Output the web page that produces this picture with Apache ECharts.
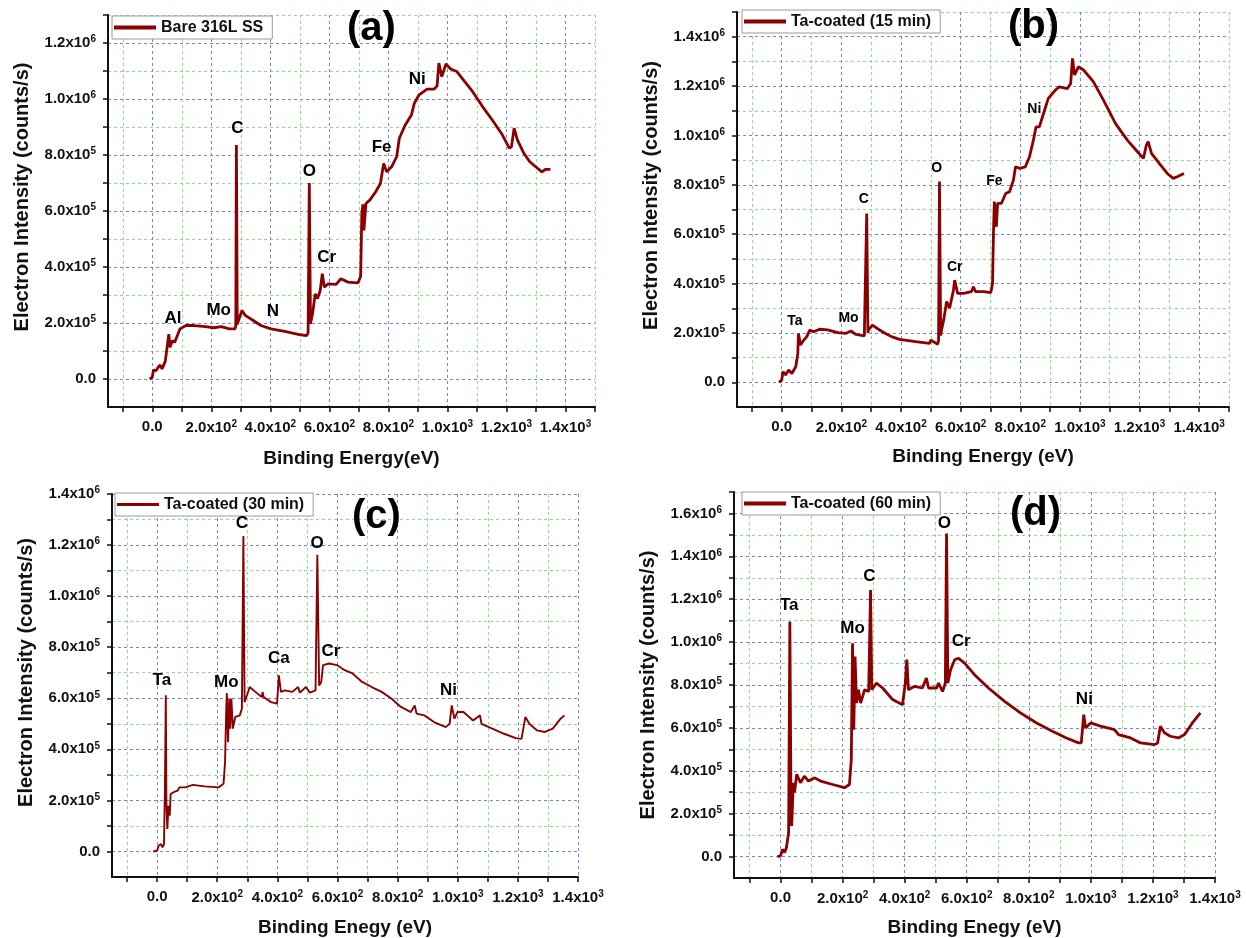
<!DOCTYPE html>
<html>
<head>
<meta charset="utf-8">
<title>XPS survey spectra</title>
<style>
  html, body { margin: 0; padding: 0; background: #fff; }
  #main { width: 1246px; height: 938px; }
</style>
</head>
<body>
<div id="main"></div>
<script src="https://cdn.jsdelivr.net/npm/echarts@6/dist/echarts.min.js"></script>
<script>
// ---- data ----
// (a) bare 316L SS
var energyA = [-9,0,4,13,20,27,33,44,50,56,60,68,76,87,94,100,114,141,181,208,234,261,280,283,285,288,292,304,315,342,368,402,449,502,523,528,532,536,543,552,560,569,576,583,596,623,639,663,697,706,710,714,717,724,737,757,773,784,794,811,828,837,857,878,888,904,931,955,965,971,981,995,1011,1032,1058,1085,1119,1152,1186,1210,1217,1226,1237,1259,1279,1299,1320,1333,1349];
var countsA = [0,6e3,32e3,30e3,42e3,50e3,36e3,63e3,66e3,160e3,113e3,137e3,131e3,161e3,179e3,173e3,191e3,191e3,187e3,183e3,187e3,179e3,179e3,190e3,836e3,195e3,209e3,245e3,227e3,209e3,191e3,179e3,170e3,158e3,155e3,165e3,700e3,197e3,233e3,304e3,287e3,316e3,376e3,328e3,340e3,338e3,358e3,346e3,343e3,367e3,591e3,624e3,531e3,627e3,639e3,669e3,698e3,770e3,740e3,758e3,794e3,860e3,907e3,943e3,985e3,1015e3,1035e3,1035e3,1047e3,1128e3,1080e3,1125e3,1107e3,1098e3,1063e3,1027e3,973e3,925e3,872e3,824e3,830e3,896e3,854e3,806e3,776e3,758e3,740e3,749e3,749e3];
var peakNamesA = ['Al','Mo','N','C','O','Cr','Fe','Ni'];
var peakXA = [70,225,409,288,532,591,777,898];
var peakYA = [215e3,245e3,242e3,896e3,743e3,436e3,826e3,1069e3];

// (b) Ta-coated 15 min
var energyB = [-9,0,4,13,23,34,47,54,56,63,74,84,94,107,127,154,188,214,232,248,277,283,285,289,291,304,328,348,368,395,449,496,500,523,526,529,533,536,543,553,563,576,580,590,610,636,643,650,677,701,707,710,713,720,724,737,751,764,777,784,797,817,831,844,853,864,878,894,918,931,958,969,975,982,995,1012,1045,1079,1119,1159,1193,1213,1223,1229,1240,1266,1293,1313,1326,1349];
var countsB = [0,9e3,43e3,30e3,50e3,36e3,63e3,117e3,198e3,151e3,171e3,185e3,212e3,205e3,215e3,212e3,201e3,198e3,208e3,194e3,188e3,195e3,684e3,200e3,212e3,232e3,212e3,198e3,185e3,174e3,165e3,158e3,171e3,154e3,170e3,813e3,190e3,212e3,252e3,327e3,300e3,374e3,414e3,360e3,360e3,367e3,387e3,367e3,367e3,363e3,400e3,603e3,732e3,630e3,725e3,725e3,765e3,772e3,819e3,873e3,867e3,873e3,914e3,981e3,1035e3,1035e3,1089e3,1150e3,1184e3,1197e3,1190e3,1210e3,1312e3,1245e3,1278e3,1265e3,1218e3,1143e3,1049e3,981e3,934e3,907e3,961e3,975e3,927e3,887e3,846e3,826e3,833e3,846e3];
var peakNamesB = ['Ta','Mo','C','O','Cr','Fe','Ni'];
var peakXB = [44,224,275,520,580,713,847];
var peakYB = [246e3,259e3,743e3,867e3,468e3,813e3,1106e3];

// (c) Ta-coated 30 min
var energyC = [-13,0,5,13,18,23,26,29,31,34,38,42,45,55,68,74,94,119,158,204,221,226,230,232,236,240,243,247,252,260,275,282,287,291,299,308,327,348,351,354,379,399,405,412,425,450,469,475,495,508,527,533,539,546,552,572,598,624,650,682,714,747,779,811,844,857,863,889,921,960,973,980,989,999,1019,1051,1074,1079,1115,1154,1193,1212,1225,1238,1264,1290,1316,1342,1355];
var countsC = [0,3e3,22e3,29e3,16e3,29e3,245e3,612e3,193e3,88e3,179e3,140e3,225e3,232e3,238e3,251e3,251e3,261e3,255e3,251e3,265e3,350e3,559e3,620e3,428e3,599e3,481e3,599e3,481e3,527e3,533e3,559e3,1235e3,585e3,612e3,644e3,625e3,605e3,625e3,605e3,585e3,579e3,690e3,625e3,631e3,625e3,644e3,622e3,644e3,622e3,631e3,1162e3,650e3,664e3,730e3,736e3,730e3,710e3,697e3,664e3,644e3,625e3,599e3,566e3,546e3,572e3,540e3,533e3,507e3,487e3,500e3,572e3,520e3,546e3,546e3,513e3,533e3,500e3,481e3,461e3,444e3,441e3,527e3,500e3,474e3,468e3,481e3,520e3,533e3];
var peakNamesC = ['Ta','Mo','C','Ca','O','Cr','Ni'];
var peakXC = [16,230,282,405,532,578,969];
var peakYC = [671e3,664e3,1286e3,756e3,1208e3,785e3,631e3];

// (d) Ta-coated 60 min
var energyD = [-10,0,6,13,19,26,30,34,36,41,45,52,64,77,90,110,129,168,206,222,228,232,236,240,245,251,258,271,284,290,294,309,329,361,393,402,407,412,432,457,470,477,503,509,522,531,535,539,548,561,573,593,625,670,722,773,825,876,921,960,969,977,983,999,1031,1076,1082,1089,1128,1160,1205,1215,1224,1237,1256,1282,1302,1327,1353];
var countsD = [0,3e3,34e3,19e3,42e3,112e3,1096e3,158e3,143e3,344e3,298e3,383e3,344e3,375e3,352e3,367e3,352e3,336e3,321e3,336e3,453e3,995e3,592e3,933e3,716e3,778e3,716e3,778e3,770e3,1243e3,778e3,809e3,786e3,732e3,708e3,809e3,918e3,778e3,794e3,786e3,832e3,786e3,786e3,809e3,770e3,809e3,1507e3,809e3,871e3,918e3,925e3,902e3,848e3,786e3,724e3,670e3,623e3,584e3,553e3,530e3,530e3,662e3,600e3,623e3,608e3,592e3,600e3,569e3,553e3,530e3,522e3,530e3,608e3,577e3,561e3,553e3,569e3,623e3,670e3];
var peakNamesD = ['Ta','Mo','C','O','Cr','Ni'];
var peakXD = [28,232,286,528,582,979];
var peakYD = [1173e3,1065e3,1308e3,1553e3,1003e3,732e3];

// legends, panel letters and axis titles
var seriesNames = ['Bare 316L SS', 'Ta-coated (15 min)', 'Ta-coated (30 min)', 'Ta-coated (60 min)'];
var panelLetters = ['(a)', '(b)', '(c)', '(d)'];
var xNames = ['Binding Energy(eV)', 'Binding Energy (eV)', 'Binding Enegy (eV)', 'Binding Enegy (eV)'];
var yName = 'Electron Intensity (counts/s)';

// axis ranges and labelled ticks
var xMaxes = [1500, 1500, 1400, 1400];
var yMaxes = [1.3e6, 1.5e6, 1.4e6, 1.7e6];
var xLabelTicks = [0, 200, 400, 600, 800, 1000, 1200, 1400];
var yLabelTicks = [
  [0, 2e5, 4e5, 6e5, 8e5, 1e6, 1.2e6],
  [0, 2e5, 4e5, 6e5, 8e5, 1e6, 1.2e6, 1.4e6],
  [0, 2e5, 4e5, 6e5, 8e5, 1e6, 1.2e6, 1.4e6],
  [0, 2e5, 4e5, 6e5, 8e5, 1e6, 1.2e6, 1.4e6, 1.6e6]
];

var chart = echarts.init(document.getElementById('main'));

var FONT = 'Liberation Sans, Arial, sans-serif';
var RED = '#8b0000';

function zip(xs, ys) {
  var out = [];
  for (var i = 0; i < xs.length; i++) out.push([xs[i], ys[i]]);
  return out;
}
function peaks(names, xs, ys) {
  var out = [];
  for (var i = 0; i < names.length; i++) out.push({ name: names[i], value: [xs[i], ys[i]] });
  return out;
}
function steps(from, to, step) {
  var out = [];
  for (var v = from; v <= to + 1e-6; v += step) out.push(Math.round(v));
  return out;
}
// 1.2x10^6 style labels
function sci(v) {
  if (v === 0) return '{m|0.0}';
  var e = Math.floor(Math.log10(Math.abs(v)) + 1e-9);
  var m = v / Math.pow(10, e);
  return '{m|' + m.toFixed(1) + 'x10}{s|' + e + '}';
}
var tickRich = {
  m: { fontFamily: FONT, fontSize: 15, fontWeight: 'bold', color: '#111' },
  s: { fontFamily: FONT, fontSize: 10, fontWeight: 'bold', color: '#111', verticalAlign: 'top', padding: [0, 0, 7, 0] }
};

var grids = [
  { left: 108, top: 15, width: 487, height: 392 },
  { left: 737, top: 12, width: 492, height: 395 },
  { left: 112, top: 494, width: 466, height: 384 },
  { left: 734, top: 492, width: 481, height: 387 }
];
var legendPos = [
  { left: 112, top: 16 },
  { left: 742, top: 10 },
  { left: 115, top: 493 },
  { left: 742, top: 492 }
];
var letterPos = [
  { left: 347, top: 9 },
  { left: 1008, top: 7 },
  { left: 352, top: 497 },
  { left: 1010, top: 494 }
];
var peakFont = [17, 14, 17, 17];
var lineWidths = [2.8, 2.8, 1.9, 2.8];
var iconHeights = [4, 4, 3, 4];
var xNameGaps = [42, 40, 41, 40];
var yNamePad = [[0, 0, 0, 28], [0, 0, 0, 28], [0, 0, 0, 26], [0, 0, 0, 0]];

var energies = [energyA, energyB, energyC, energyD];
var counts = [countsA, countsB, countsC, countsD];
var peakSets = [
  peaks(peakNamesA, peakXA, peakYA),
  peaks(peakNamesB, peakXB, peakYB),
  peaks(peakNamesC, peakXC, peakYC),
  peaks(peakNamesD, peakXD, peakYD)
];

var xAxes = [], yAxes = [], series = [], legends = [], titles = [];
for (var i = 0; i < 4; i++) {
  xAxes.push({
    gridIndex: i, type: 'value', min: -150, max: xMaxes[i],
    name: xNames[i], nameLocation: 'middle', nameGap: xNameGaps[i],
    nameTextStyle: { fontFamily: FONT, fontSize: 19, fontWeight: 'bold', color: '#111' },
    axisLine: { onZero: false, lineStyle: { color: '#111', width: 2 } },
    axisTick: { customValues: steps(-100, xMaxes[i], 100), length: 5, lineStyle: { color: '#111', width: 1.5 } },
    axisLabel: { customValues: xLabelTicks, margin: 12, formatter: sci, rich: tickRich },
    splitLine: { show: true, lineStyle: { color: ['#86e486', '#7a7aff'], width: 1, type: [3, 3] } }
  });
  yAxes.push({
    gridIndex: i, type: 'value', min: -1e5, max: yMaxes[i], interval: 1e5,
    name: yName, nameLocation: 'middle', nameGap: 76, nameRotate: 90,
    nameTextStyle: { fontFamily: FONT, fontSize: 20, fontWeight: 'bold', color: '#111', padding: yNamePad[i] },
    axisLine: { onZero: false, lineStyle: { color: '#111', width: 2 } },
    axisTick: { customValues: steps(0, yMaxes[i], 1e5), length: 5, lineStyle: { color: '#111', width: 1.5 } },
    axisLabel: { customValues: yLabelTicks[i], margin: 12, formatter: sci, rich: tickRich },
    splitLine: { show: true, lineStyle: { color: ['#7a7aff', '#86e486'], width: 1, type: [3, 3] } }
  });
  series.push({
    name: seriesNames[i], type: 'line', xAxisIndex: i, yAxisIndex: i,
    data: zip(energies[i], counts[i]), symbol: 'none',
    lineStyle: { color: RED, width: lineWidths[i] }, itemStyle: { color: RED }, z: 3
  });
  series.push({
    type: 'scatter', xAxisIndex: i, yAxisIndex: i, silent: true,
    data: peakSets[i], symbolSize: 0, itemStyle: { color: '#000', opacity: 1 },
    label: { show: true, position: 'inside', formatter: '{b}', fontFamily: FONT,
             fontSize: peakFont[i], fontWeight: 'bold', color: '#000',
             textBorderWidth: 0, opacity: 1 },
    emphasis: { disabled: true }, z: 4
  });
  legends.push({
    data: [seriesNames[i]], left: legendPos[i].left, top: legendPos[i].top,
    orient: 'horizontal', padding: [3, 9, 3, 2], icon: 'rect',
    itemWidth: 42, itemHeight: iconHeights[i], itemGap: 0,
    borderColor: '#9a9a9a', borderWidth: 1, backgroundColor: '#fff', selectedMode: false,
    textStyle: { fontFamily: FONT, fontSize: 16, fontWeight: 'bold', color: '#111', lineHeight: 17 }
  });
  titles.push({
    text: panelLetters[i], left: letterPos[i].left, top: letterPos[i].top, padding: 0,
    textStyle: { fontFamily: FONT, fontSize: 40, fontWeight: 'bold', color: '#000' }
  });
}

chart.setOption({
  animation: false,
  backgroundColor: '#fff',
  title: titles,
  legend: legends,
  grid: grids,
  xAxis: xAxes,
  yAxis: yAxes,
  series: series
});
</script>
</body>
</html>
